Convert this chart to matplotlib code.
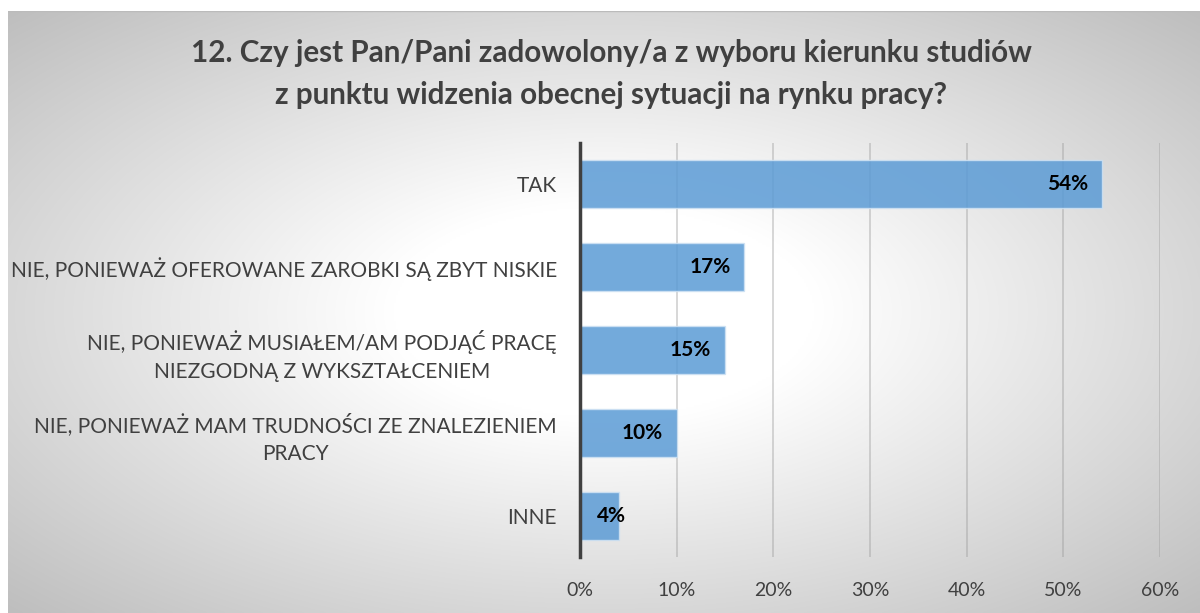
import numpy as np
import matplotlib
matplotlib.use("Agg")
import matplotlib.pyplot as plt

categories = [
    "TAK",
    "NIE, PONIEWAŻ OFEROWANE ZAROBKI SĄ ZBYT NISKIE",
    "NIE, PONIEWAŻ MUSIAŁEM/AM PODJĄĆ PRACĘ\nNIEZGODNĄ Z WYKSZTAŁCENIEM",
    "NIE, PONIEWAŻ MAM TRUDNOŚCI ZE ZNALEZIENIEM\nPRACY",
    "INNE",
]
values = [54, 17, 15, 10, 4]
value_labels = ["54%", "17%", "15%", "10%", "4%"]
x_ticks = [0, 10, 20, 30, 40, 50, 60]
x_tick_labels = ["0%", "10%", "20%", "30%", "40%", "50%", "60%"]
title = ("12. Czy jest Pan/Pani zadowolony/a z wyboru kierunku studiów\n"
         "z punktu widzenia obecnej sytuacji na rynku pracy?")

plt.rcParams['font.family'] = ['Lato', 'DejaVu Sans']

W, H = 1200, 613
fig = plt.figure(figsize=(W / 100, H / 100), dpi=100)
fig.patch.set_facecolor("white")

# background gradient box
bx0, by0 = 8, 11
bg = fig.add_axes([bx0 / W, 0, 1 - bx0 / W, (H - by0) / H])
bg.set_axis_off()
nx, ny = 600, 300
xx, yy = np.meshgrid(np.linspace(-1, 1, nx), np.linspace(-1, 1, ny))
r = np.sqrt(xx ** 2 + yy ** 2) / np.sqrt(2)
t = np.clip((r - 0.25) / 0.75, 0, 1)
val = 1.0 - t * (1.0 - 0.745)
img = np.dstack([val, val, val])
bg.imshow(img, extent=[0, 1, 0, 1], aspect="auto", interpolation="bilinear")
bg.set_xlim(0, 1)
bg.set_ylim(0, 1)
bg.plot([0, 1], [1, 1], color="#BBBBBB", lw=1)

ax = fig.add_axes([580 / W, (H - 557) / H, 580 / W, (557 - 143) / H])
ax.set_facecolor("none")
y = np.arange(len(categories))
ax.set_xlim(0, 60)
ax.set_ylim(len(categories) - 0.5, -0.5)

for xt in x_ticks[1:]:
    ax.axvline(xt, color="#999999", alpha=0.45, lw=1.2, zorder=1)

ax.barh(y, values, height=0.58, color="#5B9BD5", alpha=0.85,
        edgecolor="#CFE2F3", linewidth=1.0, zorder=2)

for i, (v, lab) in enumerate(zip(values, value_labels)):
    off = -14 if v >= 5 else 7
    ax.annotate(lab, xy=(v, i), xytext=(off, 0), textcoords="offset pixels",
                ha="right", va="center", fontsize=15, fontweight="bold",
                color="black", zorder=3)

ax.set_yticks(y)
ax.set_yticklabels(categories, fontsize=15, color="#404040",
                   multialignment="center", linespacing=1.5)
ax.set_xticks(x_ticks)
ax.set_xticklabels(x_tick_labels, fontsize=14, color="#404040")
ax.tick_params(axis="y", length=0, pad=16.5)
ax.tick_params(axis="x", length=0, pad=18)
for s in ["top", "right", "bottom"]:
    ax.spines[s].set_visible(False)
ax.spines["left"].set_color("#404040")
ax.spines["left"].set_linewidth(2.5)
ax.spines["left"].set_zorder(4)

fig.text(611 / W, 1 - 74 / H, title, ha="center", va="center",
         fontsize=21.3, fontweight="bold", color="#404040", linespacing=1.65)

fig.savefig("out.png", dpi=100, facecolor="white")
